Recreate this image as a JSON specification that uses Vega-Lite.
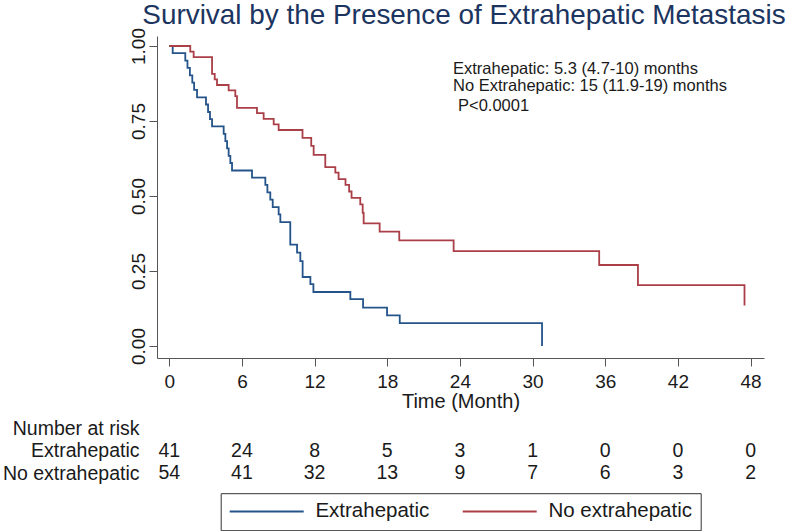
{
  "$schema": "https://vega.github.io/schema/vega-lite/v6.json",
  "background": "white",
  "padding": {"left": 2, "top": 1, "right": 0, "bottom": 0},
  "config": {
    "view": {"stroke": null},
    "font": "Liberation Sans",
    "axis": {"labelFont": "Liberation Sans", "titleFont": "Liberation Sans", "labelColor": "#1a1a1a", "titleColor": "#1a1a1a"}
  },
  "datasets": {
    "km": [
      {"group": "Extrahepatic", "t": 0, "s": 1},
      {"group": "Extrahepatic", "t": 0.28, "s": 0.976},
      {"group": "Extrahepatic", "t": 1.32, "s": 0.951},
      {"group": "Extrahepatic", "t": 1.5, "s": 0.927},
      {"group": "Extrahepatic", "t": 1.7, "s": 0.902},
      {"group": "Extrahepatic", "t": 1.9, "s": 0.878},
      {"group": "Extrahepatic", "t": 2.05, "s": 0.854},
      {"group": "Extrahepatic", "t": 2.29, "s": 0.829},
      {"group": "Extrahepatic", "t": 3.03, "s": 0.805},
      {"group": "Extrahepatic", "t": 3.2, "s": 0.78},
      {"group": "Extrahepatic", "t": 3.36, "s": 0.756},
      {"group": "Extrahepatic", "t": 3.53, "s": 0.732},
      {"group": "Extrahepatic", "t": 4.49, "s": 0.707},
      {"group": "Extrahepatic", "t": 4.63, "s": 0.683},
      {"group": "Extrahepatic", "t": 4.77, "s": 0.659},
      {"group": "Extrahepatic", "t": 4.9, "s": 0.634},
      {"group": "Extrahepatic", "t": 5.04, "s": 0.61},
      {"group": "Extrahepatic", "t": 5.18, "s": 0.585},
      {"group": "Extrahepatic", "t": 6.83, "s": 0.561},
      {"group": "Extrahepatic", "t": 7.93, "s": 0.537},
      {"group": "Extrahepatic", "t": 8.1, "s": 0.512},
      {"group": "Extrahepatic", "t": 8.34, "s": 0.488},
      {"group": "Extrahepatic", "t": 8.54, "s": 0.463},
      {"group": "Extrahepatic", "t": 9.03, "s": 0.439},
      {"group": "Extrahepatic", "t": 9.17, "s": 0.413},
      {"group": "Extrahepatic", "t": 9.99, "s": 0.338},
      {"group": "Extrahepatic", "t": 10.55, "s": 0.311},
      {"group": "Extrahepatic", "t": 10.82, "s": 0.283},
      {"group": "Extrahepatic", "t": 11.01, "s": 0.23},
      {"group": "Extrahepatic", "t": 11.65, "s": 0.206},
      {"group": "Extrahepatic", "t": 11.9, "s": 0.18},
      {"group": "Extrahepatic", "t": 14.95, "s": 0.156},
      {"group": "Extrahepatic", "t": 16.0, "s": 0.128},
      {"group": "Extrahepatic", "t": 17.98, "s": 0.102},
      {"group": "Extrahepatic", "t": 19.03, "s": 0.076},
      {"group": "Extrahepatic", "t": 30.78, "s": 0},
      {"group": "No extrahepatic", "t": 0, "s": 1},
      {"group": "No extrahepatic", "t": 1.73, "s": 0.981},
      {"group": "No extrahepatic", "t": 2.01, "s": 0.963},
      {"group": "No extrahepatic", "t": 3.53, "s": 0.907},
      {"group": "No extrahepatic", "t": 3.75, "s": 0.889},
      {"group": "No extrahepatic", "t": 3.94, "s": 0.87},
      {"group": "No extrahepatic", "t": 4.9, "s": 0.852},
      {"group": "No extrahepatic", "t": 5.45, "s": 0.833},
      {"group": "No extrahepatic", "t": 5.59, "s": 0.794},
      {"group": "No extrahepatic", "t": 7.24, "s": 0.776},
      {"group": "No extrahepatic", "t": 7.79, "s": 0.757},
      {"group": "No extrahepatic", "t": 8.62, "s": 0.739},
      {"group": "No extrahepatic", "t": 9.03, "s": 0.72},
      {"group": "No extrahepatic", "t": 11.0, "s": 0.694},
      {"group": "No extrahepatic", "t": 11.72, "s": 0.667},
      {"group": "No extrahepatic", "t": 11.92, "s": 0.637},
      {"group": "No extrahepatic", "t": 12.88, "s": 0.596},
      {"group": "No extrahepatic", "t": 13.71, "s": 0.578},
      {"group": "No extrahepatic", "t": 13.98, "s": 0.556},
      {"group": "No extrahepatic", "t": 14.55, "s": 0.537},
      {"group": "No extrahepatic", "t": 14.85, "s": 0.515},
      {"group": "No extrahepatic", "t": 15.05, "s": 0.494},
      {"group": "No extrahepatic", "t": 15.77, "s": 0.472},
      {"group": "No extrahepatic", "t": 15.97, "s": 0.444},
      {"group": "No extrahepatic", "t": 16.05, "s": 0.409},
      {"group": "No extrahepatic", "t": 17.37, "s": 0.381},
      {"group": "No extrahepatic", "t": 18.99, "s": 0.352},
      {"group": "No extrahepatic", "t": 23.48, "s": 0.316},
      {"group": "No extrahepatic", "t": 35.5, "s": 0.27},
      {"group": "No extrahepatic", "t": 38.7, "s": 0.203},
      {"group": "No extrahepatic", "t": 47.5, "s": 0.135}
    ],
    "risk": [
      {"row": "Extrahepatic", "t": 0, "n": 41},
      {"row": "Extrahepatic", "t": 6, "n": 24},
      {"row": "Extrahepatic", "t": 12, "n": 8},
      {"row": "Extrahepatic", "t": 18, "n": 5},
      {"row": "Extrahepatic", "t": 24, "n": 3},
      {"row": "Extrahepatic", "t": 30, "n": 1},
      {"row": "Extrahepatic", "t": 36, "n": 0},
      {"row": "Extrahepatic", "t": 42, "n": 0},
      {"row": "Extrahepatic", "t": 48, "n": 0},
      {"row": "No extrahepatic", "t": 0, "n": 54},
      {"row": "No extrahepatic", "t": 6, "n": 41},
      {"row": "No extrahepatic", "t": 12, "n": 32},
      {"row": "No extrahepatic", "t": 18, "n": 13},
      {"row": "No extrahepatic", "t": 24, "n": 9},
      {"row": "No extrahepatic", "t": 30, "n": 7},
      {"row": "No extrahepatic", "t": 36, "n": 6},
      {"row": "No extrahepatic", "t": 42, "n": 3},
      {"row": "No extrahepatic", "t": 48, "n": 2}
    ]
  },
  "resolve": {"scale": {"x": "independent", "y": "independent"}},
  "spacing": 6,
  "vconcat": [
    {
      "width": 607,
      "height": 322,
      "title": {
        "text": "Survival by the Presence of Extrahepatic Metastasis",
        "fontSize": 27.9,
        "fontWeight": "normal",
        "font": "Liberation Sans",
        "color": "#1c3560",
        "anchor": "middle",
        "frame": "group",
        "dx": 3.5,
        "offset": -2
      },
      "layer": [
        {
          "data": {"name": "km"},
          "mark": {"type": "line", "interpolate": "step-after", "strokeWidth": 1.8},
          "encoding": {
            "x": {
              "field": "t",
              "type": "quantitative",
              "scale": {"domain": [-1.016, 49.11], "nice": false, "zero": false},
              "axis": {
                "values": [0, 6, 12, 18, 24, 30, 36, 42, 48],
                "title": "Time (Month)",
                "grid": false,
                "domainColor": "#555",
                "tickColor": "#555",
                "tickSize": 8,
                "labelPadding": 6,
                "labelFontSize": 19,
                "titleFontSize": 20,
                "titleFontWeight": "normal",
                "titlePadding": 0
              }
            },
            "y": {
              "field": "s",
              "type": "quantitative",
              "scale": {"domain": [-0.04, 1.0333], "nice": false, "zero": false},
              "axis": {
                "values": [0, 0.25, 0.5, 0.75, 1],
                "format": ".2f",
                "title": null,
                "grid": false,
                "domainColor": "#555",
                "tickColor": "#555",
                "tickSize": 8,
                "labelPadding": 1,
                "labelAngle": 270,
                "labelAlign": "center",
                "labelBaseline": "bottom",
                "labelFontSize": 19
              }
            },
            "color": {
              "field": "group",
              "type": "nominal",
              "scale": {"domain": ["Extrahepatic", "No extrahepatic"], "range": ["#24548a", "#aa3f48"]},
              "legend": {
                "orient": "none",
                "legendX": 63.7,
                "legendY": 457.2,
                "direction": "horizontal",
                "title": null,
                "strokeColor": "#333",
                "padding": 8,
                "symbolType": "stroke",
                "symbolSize": 5476,
                "symbolStrokeWidth": 2,
                "clipHeight": 20,
                "labelFont": "Liberation Sans",
                "labelFontSize": 20.5,
                "labelColor": "#1a1a1a",
                "labelOffset": 10.7,
                "columnPadding": 32
              }
            }
          }
        },
        {
          "data": {"values": [{}]},
          "mark": {"type": "text", "align": "left", "baseline": "middle", "fontSize": 16.5, "font": "Liberation Sans", "color": "#1a1a1a"},
          "encoding": {"x": {"datum": 23.43}, "y": {"datum": 0.924}, "text": {"value": "Extrahepatic: 5.3 (4.7-10) months"}}
        },
        {
          "data": {"values": [{}]},
          "mark": {"type": "text", "align": "left", "baseline": "middle", "fontSize": 16.5, "font": "Liberation Sans", "color": "#1a1a1a"},
          "encoding": {"x": {"datum": 23.43}, "y": {"datum": 0.866}, "text": {"value": "No Extrahepatic: 15 (11.9-19) months"}}
        },
        {
          "data": {"values": [{}]},
          "mark": {"type": "text", "align": "left", "baseline": "middle", "fontSize": 16.5, "font": "Liberation Sans", "color": "#1a1a1a"},
          "encoding": {"x": {"datum": 23.84}, "y": {"datum": 0.8}, "text": {"value": "P<0.0001"}}
        }
      ]
    },
    {
      "width": 607,
      "height": 67.5,
      "data": {"name": "risk"},
      "mark": {"type": "text", "align": "center", "baseline": "middle", "fontSize": 19.5, "font": "Liberation Sans", "color": "#1a1a1a"},
      "encoding": {
        "x": {
          "field": "t",
          "type": "quantitative",
          "scale": {"domain": [-1.016, 49.11], "nice": false, "zero": false},
          "axis": null
        },
        "y": {
          "field": "row",
          "type": "nominal",
          "scale": {"domain": ["Number at risk", "Extrahepatic", "No extrahepatic"]},
          "axis": {
            "title": null,
            "domain": false,
            "ticks": false,
            "labelPadding": 18,
            "labelFontSize": 19.5,
            "labelFont": "Liberation Sans",
            "labelColor": "#1a1a1a"
          }
        },
        "text": {"field": "n", "type": "quantitative"}
      }
    }
  ]
}
